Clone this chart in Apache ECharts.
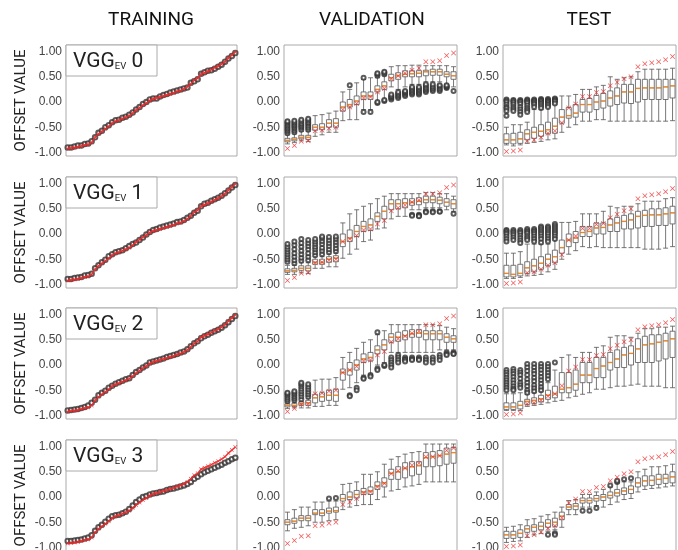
<!DOCTYPE html>
<html><head><meta charset="utf-8">
<script src="https://cdn.jsdelivr.net/npm/echarts@6/dist/echarts.min.js"></script>
<style>html,body{margin:0;padding:0;background:#fff}#c{width:678px;height:550px}</style>
</head><body><div id="c"></div>
<script>
const columnTitles = ['TRAINING', 'VALIDATION', 'TEST'];
const modelNumbers = ['0', '1', '2', '3'];
const yTickValues = [-1, -0.5, 0, 0.5, 1];
const boxCategories = ['1','2','3','4','5','6','7','8','9','10','11','12','13','14','15','16','17','18','19','20','21','22','23','24','25'];

const trainTruth = [-0.92,-0.91,-0.90,-0.89,-0.87,-0.85,-0.84,-0.80,-0.70,-0.63,-0.58,-0.53,-0.48,-0.42,-0.38,-0.36,-0.33,-0.30,-0.27,-0.22,-0.16,-0.11,-0.06,-0.02,0.03,0.06,0.08,0.10,0.12,0.14,0.16,0.18,0.21,0.23,0.26,0.30,0.36,0.43,0.47,0.55,0.58,0.61,0.64,0.68,0.71,0.75,0.80,0.87,0.93,0.99];
const trainPred0 = [-0.90,-0.90,-0.88,-0.86,-0.86,-0.83,-0.82,-0.78,-0.70,-0.61,-0.57,-0.50,-0.46,-0.40,-0.36,-0.35,-0.31,-0.29,-0.25,-0.21,-0.15,-0.10,-0.04,0.00,0.05,0.07,0.07,0.11,0.14,0.16,0.19,0.21,0.23,0.25,0.27,0.29,0.38,0.41,0.45,0.56,0.59,0.62,0.63,0.66,0.70,0.74,0.80,0.86,0.91,0.97];
const trainPred1 = [-0.89,-0.89,-0.87,-0.86,-0.85,-0.82,-0.81,-0.79,-0.68,-0.62,-0.56,-0.51,-0.44,-0.40,-0.36,-0.34,-0.32,-0.28,-0.24,-0.20,-0.17,-0.12,-0.07,-0.01,0.04,0.08,0.10,0.13,0.15,0.17,0.19,0.21,0.24,0.25,0.28,0.32,0.36,0.42,0.46,0.55,0.60,0.62,0.66,0.69,0.72,0.76,0.81,0.86,0.92,0.97];
const trainPred2 = [-0.90,-0.89,-0.88,-0.87,-0.85,-0.83,-0.80,-0.75,-0.69,-0.60,-0.55,-0.51,-0.45,-0.41,-0.37,-0.34,-0.31,-0.28,-0.26,-0.20,-0.14,-0.10,-0.05,-0.01,0.05,0.07,0.09,0.11,0.13,0.16,0.18,0.20,0.22,0.25,0.27,0.31,0.37,0.43,0.47,0.53,0.57,0.60,0.64,0.67,0.70,0.74,0.79,0.85,0.91,0.97];
const trainPred3 = [-0.87,-0.87,-0.86,-0.85,-0.84,-0.82,-0.80,-0.76,-0.67,-0.60,-0.55,-0.49,-0.43,-0.38,-0.36,-0.35,-0.32,-0.29,-0.24,-0.17,-0.10,-0.05,0.00,0.02,0.05,0.07,0.08,0.10,0.11,0.14,0.16,0.17,0.19,0.21,0.23,0.26,0.30,0.36,0.40,0.45,0.49,0.52,0.55,0.58,0.61,0.64,0.68,0.71,0.75,0.78];

const valTruth = [-0.92,-0.86,-0.78,-0.77,-0.57,-0.56,-0.52,-0.50,-0.15,-0.10,-0.03,0.08,0.10,0.20,0.27,0.46,0.52,0.57,0.63,0.67,0.80,0.80,0.82,0.92,0.97];
const testTruth = [-0.98,-0.97,-0.95,-0.77,-0.75,-0.70,-0.62,-0.57,-0.41,-0.12,-0.04,0.11,0.11,0.19,0.21,0.32,0.39,0.46,0.50,0.70,0.76,0.78,0.80,0.84,0.90];

// [min, Q1, median, Q3, max]
const valBox0 = [[-0.83,-0.79,-0.76,-0.72,-0.65],[-0.80,-0.77,-0.74,-0.71,-0.63],[-0.77,-0.73,-0.70,-0.66,-0.58],[-0.78,-0.74,-0.70,-0.66,-0.58],[-0.68,-0.56,-0.50,-0.45,-0.27],[-0.65,-0.55,-0.50,-0.43,-0.25],[-0.60,-0.50,-0.42,-0.35,-0.22],[-0.60,-0.50,-0.42,-0.33,-0.18],[-0.37,-0.18,-0.10,0.00,0.20],[-0.35,-0.10,-0.05,0.05,0.25],[-0.35,-0.05,0.02,0.12,0.38],[-0.15,0.05,0.12,0.20,0.45],[-0.15,0.05,0.12,0.20,0.48],[0.00,0.20,0.25,0.32,0.48],[0.05,0.25,0.32,0.40,0.52],[0.30,0.42,0.48,0.55,0.70],[0.25,0.45,0.52,0.58,0.72],[0.30,0.50,0.55,0.62,0.72],[0.35,0.50,0.56,0.62,0.73],[0.35,0.50,0.57,0.62,0.73],[0.40,0.52,0.60,0.63,0.72],[0.40,0.53,0.60,0.65,0.72],[0.40,0.53,0.60,0.65,0.72],[0.35,0.50,0.55,0.60,0.72],[0.30,0.45,0.52,0.60,0.70]];
const valOut0 = [[-0.62,-0.58,-0.55,-0.52,-0.49,-0.46,-0.43,-0.40,-0.38],[-0.60,-0.56,-0.52,-0.49,-0.46,-0.43,-0.40,-0.37],[-0.55,-0.51,-0.48,-0.45,-0.42,-0.38,-0.35],[-0.55,-0.51,-0.47,-0.43,-0.40,-0.36,-0.33],[],[],[],[],[],[0.33],[],[0.48,-0.20],[-0.20],[0.52,0.55,0.57,-0.02,0.00],[0.55,0.58,0.60,0.02,0.04],[0.05,0.08,0.10,0.12,0.15],[0.08,0.11,0.14,0.17,0.20],[0.12,0.15,0.18,0.20,0.22],[0.15,0.18,0.21,0.24,0.27,0.30],[0.15,0.18,0.21,0.24,0.27,0.30],[0.20,0.23,0.26,0.29,0.32,0.35],[0.22,0.25,0.28,0.31,0.35],[0.22,0.25,0.28,0.31,0.33],[0.28,0.30,0.31,0.33],[0.22]];
const testBox0 = [[-0.85,-0.82,-0.75,-0.63,-0.50],[-0.87,-0.83,-0.75,-0.62,-0.45],[-0.85,-0.82,-0.73,-0.60,-0.45],[-0.82,-0.75,-0.63,-0.55,-0.40],[-0.80,-0.72,-0.60,-0.50,-0.15],[-0.78,-0.68,-0.58,-0.45,-0.15],[-0.75,-0.63,-0.55,-0.40,-0.10],[-0.73,-0.62,-0.48,-0.32,-0.05],[-0.60,-0.42,-0.30,-0.15,0.12],[-0.50,-0.32,-0.27,-0.11,0.12],[-0.45,-0.30,-0.22,-0.05,0.15],[-0.38,-0.20,-0.05,0.05,0.25],[-0.38,-0.20,-0.05,0.07,0.25],[-0.35,-0.15,0.00,0.13,0.30],[-0.35,-0.12,0.02,0.17,0.33],[-0.38,-0.08,0.08,0.22,0.50],[-0.38,-0.05,0.12,0.28,0.45],[-0.38,-0.02,0.20,0.35,0.48],[-0.38,-0.03,0.20,0.35,0.50],[-0.38,0.00,0.27,0.45,0.60],[-0.38,0.05,0.28,0.45,0.65],[-0.38,0.05,0.28,0.45,0.65],[-0.38,0.05,0.28,0.45,0.65],[-0.38,0.05,0.30,0.45,0.65],[-0.37,0.08,0.32,0.45,0.67]];
const testOut0 = [[0.05,0.03,0.00,-0.05,-0.10,-0.13,-0.18,-0.27],[0.04,0.02,-0.01,-0.05,-0.10,-0.14,-0.18],[0.04,0.02,0.00,-0.04,-0.10,-0.15,-0.20,-0.25],[0.05,0.03,0.01,-0.02,-0.07,-0.12,-0.16,-0.20],[0.05,0.03,0.01,-0.02,-0.05,-0.10],[0.06,0.04,0.02,-0.01,-0.04,-0.08,-0.12],[0.06,0.04,0.02,0.00,-0.03,-0.06,-0.10],[0.07,0.05,0.03,0.01,-0.03],[],[],[],[],[],[],[],[],[],[],[],[],[],[],[],[],[]];

const valBox1 = [[-0.80,-0.76,-0.73,-0.69,-0.62],[-0.80,-0.75,-0.72,-0.68,-0.62],[-0.77,-0.72,-0.68,-0.63,-0.57],[-0.78,-0.73,-0.68,-0.63,-0.57],[-0.68,-0.60,-0.56,-0.50,-0.45],[-0.68,-0.60,-0.56,-0.50,-0.45],[-0.65,-0.56,-0.50,-0.45,-0.40],[-0.65,-0.55,-0.48,-0.43,-0.38],[-0.48,-0.25,-0.15,0.00,0.22],[-0.40,-0.15,-0.08,0.08,0.40],[-0.30,-0.05,0.05,0.17,0.48],[-0.15,0.05,0.15,0.25,0.55],[-0.12,0.07,0.18,0.30,0.60],[0.10,0.25,0.35,0.42,0.70],[0.12,0.30,0.45,0.55,0.75],[0.30,0.48,0.60,0.68,0.80],[0.35,0.50,0.60,0.68,0.80],[0.35,0.52,0.62,0.70,0.80],[0.48,0.57,0.63,0.70,0.80],[0.48,0.58,0.65,0.72,0.80],[0.52,0.62,0.68,0.75,0.82],[0.52,0.62,0.68,0.75,0.82],[0.52,0.60,0.67,0.73,0.80],[0.48,0.55,0.63,0.70,0.80],[0.45,0.50,0.60,0.68,0.75]];
const valOut1 = [[-0.55,-0.50,-0.45,-0.40,-0.35,-0.30,-0.25,-0.20],[-0.58,-0.52,-0.45,-0.38,-0.30,-0.22,-0.15],[-0.53,-0.47,-0.40,-0.33,-0.25,-0.18,-0.10],[-0.52,-0.45,-0.38,-0.30,-0.24,-0.18,-0.12],[-0.42,-0.36,-0.30,-0.25,-0.20,-0.15,-0.10],[-0.40,-0.33,-0.27,-0.20,-0.14,-0.08,-0.05],[-0.36,-0.30,-0.24,-0.18,-0.12,-0.06],[-0.34,-0.28,-0.22,-0.16,-0.10,-0.05],[],[],[],[],[],[],[],[],[],[],[0.38,0.36],[0.38,0.36,0.35],[0.45,0.43],[0.45,0.43],[0.45,0.44],[],[0.40]];
const testBox1 = [[-0.88,-0.85,-0.78,-0.62,-0.38],[-0.88,-0.85,-0.80,-0.62,-0.38],[-0.86,-0.83,-0.78,-0.60,-0.35],[-0.83,-0.78,-0.67,-0.55,-0.20],[-0.82,-0.75,-0.63,-0.50,-0.20],[-0.80,-0.70,-0.58,-0.45,-0.20],[-0.75,-0.63,-0.50,-0.40,-0.20],[-0.70,-0.57,-0.45,-0.32,-0.12],[-0.50,-0.38,-0.27,-0.12,0.23],[-0.40,-0.25,-0.12,0.00,0.23],[-0.33,-0.17,-0.08,0.05,0.25],[-0.25,-0.05,0.03,0.15,0.40],[-0.27,-0.05,0.05,0.15,0.40],[-0.25,0.00,0.12,0.22,0.40],[-0.27,0.00,0.13,0.22,0.45],[-0.27,0.05,0.18,0.30,0.55],[-0.27,0.05,0.22,0.33,0.52],[-0.27,0.10,0.25,0.37,0.55],[-0.27,0.10,0.28,0.40,0.55],[-0.27,0.12,0.35,0.45,0.60],[-0.30,0.15,0.37,0.47,0.65],[-0.30,0.15,0.38,0.50,0.65],[-0.30,0.17,0.38,0.50,0.65],[-0.28,0.17,0.40,0.52,0.70],[-0.25,0.20,0.42,0.55,0.72]];
const testOut1 = [[0.08,0.06,0.03,0.00,-0.05,-0.10,-0.15],[0.08,0.05,0.02,-0.02,-0.07,-0.12],[0.08,0.05,0.02,-0.03,-0.08,-0.13,-0.18],[0.10,0.07,0.04,0.01,-0.04,-0.08,-0.12],[0.10,0.07,0.04,0.00,-0.05,-0.10,-0.15],[0.15,0.12,0.08,0.04,0.00,-0.05,-0.10,-0.17],[0.15,0.12,0.08,0.04,0.00,-0.05,-0.10,-0.15],[0.20,0.16,0.12,0.08,0.04,0.00,-0.05,-0.10],[],[],[],[],[],[],[],[],[],[],[],[],[],[],[],[],[]];

const valBox2 = [[-0.86,-0.83,-0.80,-0.77,-0.75],[-0.85,-0.82,-0.80,-0.76,-0.74],[-0.85,-0.80,-0.77,-0.73,-0.72],[-0.85,-0.80,-0.75,-0.70,-0.67],[-0.82,-0.75,-0.65,-0.58,-0.30],[-0.82,-0.72,-0.63,-0.55,-0.28],[-0.80,-0.70,-0.60,-0.50,-0.28],[-0.80,-0.72,-0.60,-0.48,-0.25],[-0.48,-0.30,-0.15,-0.08,0.15],[-0.45,-0.20,-0.10,0.05,0.25],[-0.35,-0.10,0.00,0.10,0.33],[-0.20,0.05,0.12,0.22,0.45],[-0.18,0.08,0.15,0.25,0.50],[0.00,0.22,0.30,0.38,0.60],[0.05,0.30,0.40,0.50,0.68],[0.25,0.45,0.55,0.62,0.80],[0.25,0.47,0.55,0.65,0.80],[0.25,0.50,0.58,0.68,0.80],[0.25,0.55,0.62,0.70,0.80],[0.25,0.55,0.63,0.70,0.80],[0.25,0.50,0.62,0.68,0.80],[0.25,0.50,0.62,0.68,0.80],[0.30,0.50,0.62,0.68,0.78],[0.30,0.45,0.55,0.62,0.75],[0.30,0.45,0.52,0.58,0.72]];
const valOut2 = [[-0.72,-0.68,-0.64,-0.60,-0.57,-0.55],[-0.70,-0.66,-0.62,-0.58,-0.55,-0.52],[-0.68,-0.62,-0.57,-0.52,-0.47,-0.42,-0.38,-0.35],[-0.63,-0.58,-0.53,-0.48,-0.43,-0.38],[],[],[],[],[],[-0.60,-0.62],[-0.45,-0.50],[-0.25,-0.27],[-0.20,-0.23],[-0.07,-0.10,0.65],[-0.02,0.00],[0.15,0.10,0.05,0.00,-0.05],[0.20,0.15,0.10,0.05],[0.15,0.12,0.10,0.07],[0.15,0.12,0.10],[0.15,0.12,0.10],[0.15,0.10,0.05],[0.15,0.10,0.05],[0.20,0.15,0.10],[0.25,0.22,0.20],[0.25,0.23,0.22]];
const testBox2 = [[-0.90,-0.88,-0.83,-0.75,-0.57],[-0.90,-0.88,-0.83,-0.75,-0.57],[-0.90,-0.87,-0.80,-0.72,-0.55],[-0.82,-0.78,-0.72,-0.68,-0.58],[-0.80,-0.76,-0.70,-0.65,-0.55],[-0.78,-0.73,-0.67,-0.60,-0.53],[-0.75,-0.68,-0.60,-0.50,-0.35],[-0.72,-0.65,-0.57,-0.42,-0.10],[-0.70,-0.55,-0.48,-0.15,0.15],[-0.65,-0.55,-0.45,-0.15,0.20],[-0.62,-0.50,-0.38,-0.10,0.15],[-0.58,-0.35,-0.20,0.05,0.25],[-0.55,-0.35,-0.20,0.05,0.25],[-0.48,-0.25,-0.07,0.15,0.35],[-0.48,-0.25,-0.02,0.15,0.38],[-0.45,-0.10,0.05,0.25,0.55],[-0.42,-0.05,0.12,0.30,0.58],[-0.42,-0.05,0.20,0.35,0.58],[-0.40,0.00,0.23,0.38,0.55],[-0.38,0.05,0.32,0.52,0.63],[-0.42,0.05,0.40,0.57,0.72],[-0.42,0.05,0.42,0.60,0.72],[-0.42,0.08,0.45,0.60,0.75],[-0.45,0.12,0.48,0.63,0.75],[-0.45,0.15,0.52,0.67,0.77]];
const testOut2 = [[-0.10,-0.15,-0.20,-0.25,-0.30,-0.35,-0.40,-0.45,-0.50],[-0.08,-0.13,-0.18,-0.24,-0.30,-0.36,-0.42,-0.47,-0.50],[-0.10,-0.15,-0.20,-0.27,-0.35,-0.40,-0.45],[0.02,-0.05,-0.12,-0.20,-0.28,-0.35,-0.42,-0.50,-0.55],[0.02,-0.05,-0.12,-0.18,-0.25,-0.32,-0.40,-0.46,-0.52],[0.02,-0.04,-0.10,-0.17,-0.24,-0.30,-0.37,-0.44,-0.50],[0.02,-0.04,-0.10,-0.16,-0.22,-0.28],[0.05],[],[],[],[],[],[],[],[],[],[],[],[],[],[],[],[],[]];

const valBox3 = [[-0.67,-0.55,-0.50,-0.45,-0.30],[-0.62,-0.52,-0.48,-0.42,-0.25],[-0.60,-0.47,-0.42,-0.37,-0.20],[-0.57,-0.47,-0.42,-0.37,-0.20],[-0.50,-0.35,-0.32,-0.25,-0.10],[-0.50,-0.37,-0.32,-0.25,-0.10],[-0.47,-0.32,-0.28,-0.22,-0.08],[-0.45,-0.30,-0.27,-0.20,-0.08],[-0.25,-0.08,-0.03,0.05,0.25],[-0.20,-0.05,0.00,0.10,0.27],[-0.17,-0.02,0.05,0.13,0.30],[-0.15,0.05,0.10,0.17,0.45],[-0.15,0.05,0.12,0.20,0.45],[-0.05,0.15,0.22,0.30,0.50],[0.00,0.20,0.28,0.38,0.65],[0.12,0.35,0.47,0.55,0.75],[0.15,0.35,0.50,0.60,0.80],[0.20,0.38,0.57,0.68,0.85],[0.22,0.42,0.60,0.70,0.88],[0.25,0.45,0.62,0.70,0.90],[0.30,0.60,0.78,0.88,1.05],[0.30,0.60,0.80,0.90,1.05],[0.30,0.62,0.82,0.92,1.05],[0.30,0.65,0.85,0.97,1.05],[0.30,0.67,0.88,0.98,1.05]];
const valOut3 = [[],[],[],[],[],[],[-0.03],[-0.02],[],[],[],[],[],[],[],[],[],[],[],[],[],[],[],[],[]];
const testBox3 = [[-0.90,-0.82,-0.75,-0.68,-0.60],[-0.88,-0.82,-0.75,-0.68,-0.58],[-0.87,-0.80,-0.72,-0.65,-0.55],[-0.80,-0.70,-0.63,-0.57,-0.45],[-0.75,-0.68,-0.60,-0.55,-0.43],[-0.72,-0.65,-0.58,-0.50,-0.38],[-0.68,-0.60,-0.52,-0.45,-0.35],[-0.65,-0.58,-0.50,-0.42,-0.30],[-0.60,-0.45,-0.38,-0.30,-0.20],[-0.35,-0.25,-0.20,-0.15,-0.07],[-0.35,-0.25,-0.18,-0.13,-0.05],[-0.20,-0.12,-0.07,-0.02,0.05],[-0.20,-0.12,-0.07,-0.02,0.05],[-0.17,-0.08,-0.03,0.03,0.10],[-0.20,-0.07,0.00,0.05,0.15],[-0.15,-0.02,0.03,0.10,0.20],[-0.10,0.02,0.08,0.15,0.28],[-0.05,0.05,0.12,0.18,0.30],[-0.03,0.07,0.15,0.22,0.30],[0.10,0.20,0.28,0.38,0.50],[0.15,0.22,0.32,0.42,0.55],[0.17,0.23,0.33,0.42,0.60],[0.18,0.25,0.35,0.45,0.60],[0.20,0.27,0.37,0.45,0.62],[0.22,0.28,0.40,0.50,0.65]];
const testOut3 = [[],[],[],[],[],[],[-0.75],[-0.72,-0.75],[],[],[],[-0.27],[-0.27],[-0.22],[],[0.23],[0.30,0.32],[0.35],[0.37],[],[],[],[],[],[]];

const trainPreds = [trainPred0, trainPred1, trainPred2, trainPred3];
const valBoxes = [valBox0, valBox1, valBox2, valBox3];
const valOuts = [valOut0, valOut1, valOut2, valOut3];
const testBoxes = [testBox0, testBox1, testBox2, testBox3];
const testOuts = [testOut0, testOut1, testOut2, testOut3];

const colLeft = [66, 284, 503];
const colWidth = [171, 173, 173];
const rowTop = [45, 177, 308, 440];
const rowHeight = 111;
const FONT = 'Roboto, "Liberation Sans", Arial, sans-serif';
const XMARK = 'path://M1,0L5,4L9,0L10,1L6,5L10,9L9,10L5,6L1,10L0,9L4,5L0,1Z';
const RED = '#ee2a2a';

const grids = [], xAxes = [], yAxes = [], series = [], graphics = [];
for (let r = 0; r < 4; r++) {
  for (let c = 0; c < 3; c++) {
    const gi = r * 3 + c;
    grids.push({left: colLeft[c], top: rowTop[r], width: colWidth[c], height: rowHeight,
      show: true, borderColor: '#aaa', borderWidth: 1, backgroundColor: '#fff', outerBoundsMode: 'none'});
    if (c === 0) {
      xAxes.push({gridIndex: gi, type: 'value', min: -0.5, max: trainTruth.length - 0.5, show: false});
    } else {
      xAxes.push({gridIndex: gi, type: 'category', data: boxCategories, boundaryGap: true, show: false});
    }
    yAxes.push({gridIndex: gi, type: 'value', min: -1.07, max: 1.13,
      axisLine: {show: false}, axisTick: {show: false}, splitLine: {show: false},
      axisLabel: {customValues: yTickValues, formatter: v => v.toFixed(2), color: '#444',
        fontSize: 12, fontFamily: '"Liberation Sans", Arial, sans-serif', margin: 4}});
    if (c === 0) {
      series.push({type: 'scatter', xAxisIndex: gi, yAxisIndex: gi, symbol: 'emptyCircle', symbolSize: 4.5,
        itemStyle: {color: '#333', borderColor: '#333', borderWidth: 0.7}, z: 2,
        data: trainPreds[r].map((v, i) => [i, v])});
      series.push({type: 'line', xAxisIndex: gi, yAxisIndex: gi, symbol: XMARK, symbolSize: 4, showSymbol: true,
        itemStyle: {color: RED}, lineStyle: {color: RED, width: 1.5, opacity: 0.85}, z: 3,
        data: trainTruth.map((v, i) => [i, v])});
    } else {
      const boxes = c === 1 ? valBoxes[r] : testBoxes[r];
      const outs = c === 1 ? valOuts[r] : testOuts[r];
      const truth = c === 1 ? valTruth : testTruth;
      const outData = [];
      outs.forEach((arr, i) => arr.forEach(v => outData.push([i, v])));
      series.push({type: 'boxplot', xAxisIndex: gi, yAxisIndex: gi, boxWidth: [5, 5], z: 2,
        itemStyle: {color: '#fff', borderColor: '#555', borderWidth: 0.8}, data: boxes});
      series.push({type: 'scatter', xAxisIndex: gi, yAxisIndex: gi, symbol: 'emptyCircle', symbolSize: 4, z: 3,
        itemStyle: {color: '#333', borderColor: '#333', borderWidth: 0.6}, data: outData});
      series.push({type: 'scatter', xAxisIndex: gi, yAxisIndex: gi, symbol: 'rect', symbolSize: [5, 1.4], z: 4,
        itemStyle: {color: '#ff8a1c'}, data: boxes.map((b, i) => [i, b[2]])});
      series.push({type: 'scatter', xAxisIndex: gi, yAxisIndex: gi, symbol: XMARK, symbolSize: 5, z: 5,
        itemStyle: {color: RED}, data: truth.map((v, i) => [i, v])});
    }
  }
  graphics.push({type: 'text', x: 21, y: rowTop[r] + rowHeight / 2, rotation: Math.PI / 2,
    style: {text: 'OFFSET VALUE', font: '15px ' + FONT, fill: '#222', align: 'center', verticalAlign: 'middle'}});
  graphics.push({type: 'rect', shape: {x: colLeft[0], y: rowTop[r], width: 91, height: 31}, z: 50,
    style: {fill: '#fff', stroke: '#aaa', lineWidth: 1}});
  graphics.push({type: 'text', x: 73, y: rowTop[r] + 3, z: 51,
    style: {text: '{a|VGG}{b|EV}{a| ' + modelNumbers[r] + '}', align: 'left', verticalAlign: 'top',
      rich: {a: {fontSize: 21, lineHeight: 24, fontFamily: FONT, fill: '#222', verticalAlign: 'bottom'},
             b: {fontSize: 9.5, lineHeight: 10, fontFamily: FONT, fill: '#222', verticalAlign: 'bottom'}}}});
}
const headerX = [151, 372, 589];
columnTitles.forEach((t, c) => {
  graphics.push({type: 'text', x: headerX[c], y: 20,
    style: {text: t, font: '19px ' + FONT, fill: '#111', align: 'center', verticalAlign: 'middle'}});
});

const chart = echarts.init(document.getElementById('c'), null, {renderer: 'canvas'});
chart.setOption({animation: false, backgroundColor: '#fff', grid: grids, xAxis: xAxes, yAxis: yAxes,
  series: series, graphic: graphics});
</script></body></html>
